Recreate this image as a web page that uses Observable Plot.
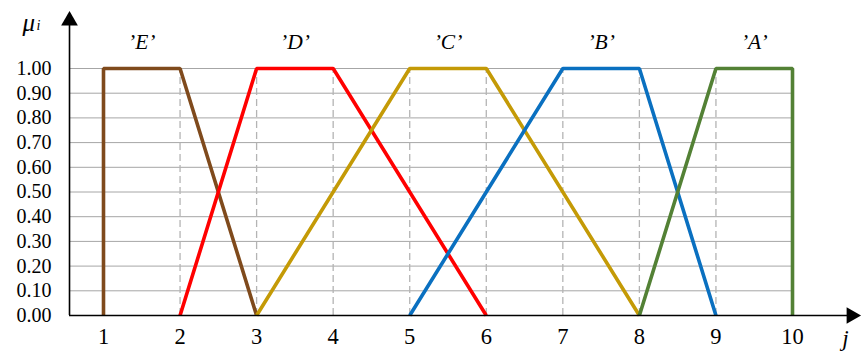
<!DOCTYPE html>
<html><head><meta charset="utf-8">
<script src="https://cdn.jsdelivr.net/npm/d3@7"></script>
<script src="https://cdn.jsdelivr.net/npm/@observablehq/plot@0.6"></script>
<style>body{margin:0;background:#fff} svg{display:block}</style>
</head><body><div id="chart"></div>
<script>
// Tick values
const xTicks = [1, 2, 3, 4, 5, 6, 7, 8, 9, 10];
const yTicks = [0, 0.1, 0.2, 0.3, 0.4, 0.5, 0.6, 0.7, 0.8, 0.9, 1.0];
const gridY = [0.1, 0.2, 0.3, 0.4, 0.5, 0.6, 0.7, 0.8, 0.9, 1.0];
const dashX = [2, 3, 4, 5, 6, 7, 8, 9];

// Membership functions (j, mu)
const jE = [1, 1, 2, 3],  muE = [0, 1, 1, 0];
const jD = [2, 3, 4, 6],  muD = [0, 1, 1, 0];
const jC = [3, 5, 6, 8],  muC = [0, 1, 1, 0];
const jB = [5, 7, 8, 9],  muB = [0, 1, 1, 0];
const jA = [8, 9, 10, 10], muA = [0, 1, 1, 0];

const seriesNames = ["E", "D", "C", "B", "A"];
const seriesColors = ["#7f4a1c", "#ff0000", "#c49a06", "#0a70c0", "#538135"];
const labelJ = [1.5, 3.5, 5.5, 7.5, 9.5];
const labelMu = 1.105;

// axis geometry (in data units)
const axisJ = 0.556;     // where the vertical axis sits
const axisEndJ = 10.77;  // x-axis arrow centre
const axisTopMu = 1.194; // y-axis arrow centre

const seriesJ = [jE, jD, jC, jB, jA];
const seriesMu = [muE, muD, muC, muB, muA];
const lineData = seriesNames.flatMap((s, i) =>
  seriesJ[i].map((j, k) => ({series: s, j, mu: seriesMu[i][k]})));
const labelData = seriesNames.map((s, i) => ({text: "\u2019" + s + "\u2019", j: labelJ[i], mu: labelMu}));

const serif = "'Liberation Serif', 'DejaVu Serif', serif";

const chart = Plot.plot({
  width: 862,
  height: 351,
  marginLeft: 69,
  marginRight: 70,
  marginTop: 68,
  marginBottom: 36,
  style: {fontFamily: serif, background: "#fff", overflow: "visible"},
  x: {domain: [1, 10], range: [103, 792]},
  y: {domain: [0, 1], range: [315, 68]},
  color: {domain: seriesNames, range: seriesColors},
  marks: [
    Plot.ruleY(gridY, {stroke: "#a6a6a6", strokeWidth: 1, strokeOpacity: 1}),
    Plot.ruleX(dashX, {y1: 0, y2: 1, stroke: "#b4b4b4", strokeWidth: 1.3, strokeDasharray: "7,4"}),
    Plot.line(lineData, {x: "j", y: "mu", z: "series", stroke: "series", strokeWidth: 3.6, strokeLinejoin: "miter", strokeLinecap: "butt"}),
    // axes lines
    Plot.ruleY([0], {x1: axisJ, x2: axisEndJ, stroke: "#000", strokeWidth: 1.6}),
    Plot.ruleX([axisJ], {y1: 0, y2: axisTopMu, stroke: "#000", strokeWidth: 1.6}),
    Plot.dot([{j: axisEndJ, mu: 0}], {x: "j", y: "mu", symbol: "triangle", r: 6.2, fill: "#000", stroke: null, rotate: 90}),
    Plot.dot([{j: axisJ, mu: axisTopMu}], {x: "j", y: "mu", symbol: "triangle", r: 6.2, fill: "#000", stroke: null}),
    // tick labels
    Plot.axisY(yTicks, {tickSize: 0, tickPadding: 18, tickFormat: d3.format(".2f"), fontSize: 20, fill: "#000", label: null}),
    Plot.axisX(xTicks, {tickSize: 0, tickPadding: 13, tickFormat: d => String(d), fontSize: 22.5, fill: "#000", label: null}),
    // series labels
    Plot.text(labelData, {x: "j", y: "mu", text: "text", fontSize: 21.5, fontStyle: "italic", fill: "#000", lineAnchor: "middle"}),
    // axis titles
    Plot.text(["\u03bc"], {x: axisJ, y: axisTopMu, dx: -47, dy: 2, fontSize: 25, fontStyle: "italic", fill: "#000", textAnchor: "start", lineAnchor: "middle"}),
    Plot.text(["i"], {x: axisJ, y: axisTopMu, dx: -33, dy: 5, fontSize: 14, fontStyle: "italic", fill: "#000", textAnchor: "start", lineAnchor: "middle"}),
    Plot.text(["j"], {x: axisEndJ, y: 0, dx: -6, dy: 23, fontSize: 23, fontStyle: "italic", fill: "#000", textAnchor: "middle", lineAnchor: "middle"})
  ]
});
document.getElementById("chart").appendChild(chart);
</script>
</body></html>
